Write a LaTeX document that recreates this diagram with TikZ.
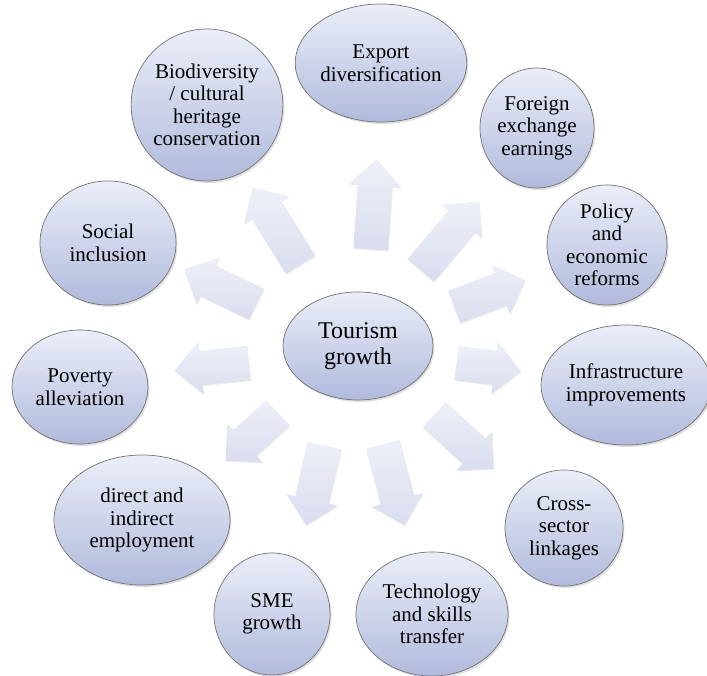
\documentclass[tikz,border=0pt]{standalone}
\usepackage{fontspec}
\setmainfont{Liberation Serif}
\newfontfamily\bubblefont{Liberation Serif}
\usetikzlibrary{shapes.geometric, shapes.arrows, shadows, calc}
\definecolor{bubbletop}{HTML}{EBEEF8}
\definecolor{bubblebot}{HTML}{B1BADC}
\definecolor{arrowtop}{HTML}{EEF0F8}
\definecolor{arrowbot}{HTML}{D9DDEE}
\tikzset{
  bubble/.style={ellipse, draw=black!55, line width=0.7pt, top color=bubbletop,
    bottom color=bubblebot, inner sep=0pt, align=center,
    drop shadow={shadow xshift=1.5pt, shadow yshift=-2pt, opacity=0.25},
    font=\bubblefont\fontsize{21}{22.5}\selectfont},
  blockarrow/.style={single arrow, draw=none, top color=arrowtop, bottom color=arrowbot,
    inner xsep=0pt, inner ysep=17pt, single arrow head extend=9pt,
    single arrow tip angle=90,
    drop shadow={shadow xshift=1pt, shadow yshift=-1pt, opacity=0.15}}
}

\begin{document}
\begin{tikzpicture}[x=1pt, y=1pt]
    \useasboundingbox (0,0) rectangle (707,675);

    % Frecce verso l'esterno
    \foreach \tx/\ty/\hx/\hy [count=\i] in {370/417/376/507, 415/398/473/467,
        446/365/517/392, 448/313/512/305, 428/266/487/212, 380/239/402/158,
        326/238/308/158, 284/268/232/220, 257/313/183/305, 264/367/192/402,
        305/403/257/480} {
        \path let \p1=($(\hx,\hy)-(\tx,\ty)$), \n1={veclen(\x1,\y1)} in
            (\tx,\ty) -- (\hx,\hy) node[blockarrow, midway, sloped, allow upside down,
            minimum height=\n1] (arr\i) {};
    }

    % Ellisse centrale
    \node[bubble, minimum width=150pt, minimum height=108pt,
        font=\bubblefont\fontsize{24}{26}\selectfont] (tourism) at (358,329) {Tourism\\growth};

    % Ellissi esterne
    \node[bubble, minimum width=168pt, minimum height=118pt] (export) at (381,612) {Export\\diversification};
    \node[bubble, minimum width=114pt, minimum height=120pt] (foreign) at (537,547) {Foreign\\exchange\\earnings};
    \node[bubble, minimum width=120pt, minimum height=120pt] (policy) at (607,430) {Policy\\and\\economic\\reforms};
    \node[bubble, minimum width=162pt, minimum height=120pt] (infra) at (626,290) {Infrastructure\\improvements};
    \node[bubble, minimum width=118pt, minimum height=116pt] (cross) at (564,147) {Cross-\\sector\\linkages};
    \node[bubble, minimum width=152pt, minimum height=124pt] (tech) at (432,61) {Technology\\and skills\\transfer};
    \node[bubble, minimum width=116pt, minimum height=122pt] (sme) at (272,61) {SME\\growth};
    \node[bubble, minimum width=176pt, minimum height=130pt] (employ) at (142,155) {direct and\\indirect\\employment};
    \node[bubble, minimum width=136pt, minimum height=114pt] (poverty) at (80,288) {Poverty\\alleviation};
    \node[bubble, minimum width=136pt, minimum height=124pt] (social) at (108,432) {Social\\inclusion};
    \node[bubble, minimum width=140pt, minimum height=152pt] (biodiv) at (207,570) {Biodiversity\\/ cultural\\heritage\\conservation};
\end{tikzpicture}
\end{document}
